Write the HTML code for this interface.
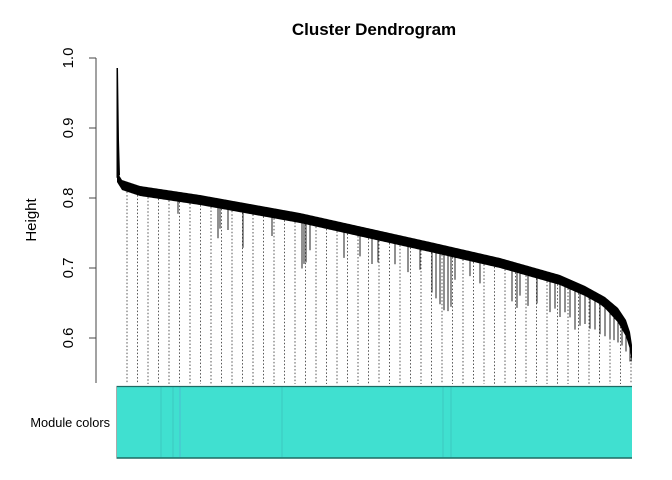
<!DOCTYPE html>
<html><head><meta charset="utf-8"><style>
html,body{margin:0;padding:0;background:#fff;width:672px;height:480px;overflow:hidden}
svg text{font-family:"Liberation Sans",sans-serif}
</style></head><body>
<svg id="s" width="672" height="480" xmlns="http://www.w3.org/2000/svg">
<text x="374" y="35" font-size="17" font-weight="bold" text-anchor="middle">Cluster Dendrogram</text>
<line x1="96" y1="58" x2="96" y2="383" stroke="#444" stroke-width="1"/>
<g stroke="#444">
<line x1="89" y1="58" x2="96" y2="58"/><line x1="89" y1="128" x2="96" y2="128"/>
<line x1="89" y1="198" x2="96" y2="198"/><line x1="89" y1="268" x2="96" y2="268"/>
<line x1="89" y1="338" x2="96" y2="338"/></g>
<g font-size="15" text-anchor="middle">
<text transform="translate(73,58) rotate(-90)">1.0</text>
<text transform="translate(73,128) rotate(-90)">0.9</text>
<text transform="translate(73,198) rotate(-90)">0.8</text>
<text transform="translate(73,268) rotate(-90)">0.7</text>
<text transform="translate(73,338) rotate(-90)">0.6</text>
<text transform="translate(36,220) rotate(-90)">Height</text>
</g>
<text x="110" y="427" font-size="12.8" text-anchor="end">Module colors</text>
<g id="dots" stroke="#555" stroke-width="1" stroke-dasharray="1.5,2"></g>
<g id="sp" stroke="#222" stroke-width="1"></g>
<path id="band" fill="#000"/>
<path d="M116.5 68 L118 68 L119 140 L120 175 L116.5 178 Z" fill="#000"/>
<rect x="116.5" y="386.5" width="515.5" height="71.5" fill="#40E0D0"/>
<g stroke="#3cc7c0" stroke-width="1"><line x1="161" y1="387" x2="161" y2="457"/><line x1="173" y1="387" x2="173" y2="457"/><line x1="180" y1="387" x2="180" y2="457" stroke="#4bbcd0"/><line x1="282" y1="387" x2="282" y2="457"/><line x1="443" y1="387" x2="443" y2="457"/><line x1="451" y1="387" x2="451" y2="457"/></g>
<line x1="116.5" y1="386.5" x2="632" y2="386.5" stroke="#1d6a63" stroke-width="1.3"/>
<line x1="116.5" y1="458" x2="632" y2="458" stroke="#1d6a63" stroke-width="1.5"/>
<line x1="116.5" y1="386.5" x2="116.5" y2="458" stroke="#aaa" stroke-width="1"/>
</svg>
<script>
(function(){
function hgt(x){
 var pts=[[117,172],[122,180],[140,186],[200,195],[300,213],[430,242],[500,258],[560,275],[585,286],[605,297],[618,308],[626,320],[630,332],[632,345]];
 for(var i=0;i<pts.length-1;i++){if(x<=pts[i+1][0]){var a=pts[i],b=pts[i+1];return a[1]+(b[1]-a[1])*(x-a[0])/(b[0]-a[0]);}}
 return 345;}
function thick(x){return x<600?10:10+(x-600)*0.25;}
var up=[],dn=[];
for(var x=117;x<=632;x+=1){up.push(x+" "+hgt(x));dn.unshift(x+" "+(hgt(x)+thick(x)));}
document.getElementById("band").setAttribute("d","M"+up.join(" L")+" L"+dn.join(" L")+" Z");
var ns="http://www.w3.org/2000/svg";
var g=document.getElementById("dots");
for(var x=127;x<=632;x+=10.5){var l=document.createElementNS(ns,"line");l.setAttribute("x1",x);l.setAttribute("x2",x);l.setAttribute("y1",hgt(x)+thick(x));l.setAttribute("y2",384);g.appendChild(l);}
var sp=document.getElementById("sp");
var spk=[[178,12],[218,30],[220,20],[228,20],[243,35],[272,18],[302,45],[304,40],[306,38],[310,25],[344,25],[360,20],[372,25],[378,22],[395,20],[408,25],[420,20],[432,40],[436,45],[440,50],[444,55],[448,55],[451,50],[455,22],[470,15],[480,20],[512,30],[517,35],[520,22],[528,30],[537,25],[550,30],[555,25],[560,32],[565,25],[570,28],[575,38],[580,32],[585,28],[590,30],[595,28],[600,30],[605,28],[610,25],[614,22],[618,20],[622,16],[626,15],[630,12]];
for(var i=0;i<spk.length;i++){var x=spk[i][0];var l=document.createElementNS(ns,"line");l.setAttribute("x1",x);l.setAttribute("x2",x);l.setAttribute("y1",hgt(x)+5);l.setAttribute("y2",hgt(x)+thick(x)+spk[i][1]);sp.appendChild(l);}
})();
</script>
</body></html>
